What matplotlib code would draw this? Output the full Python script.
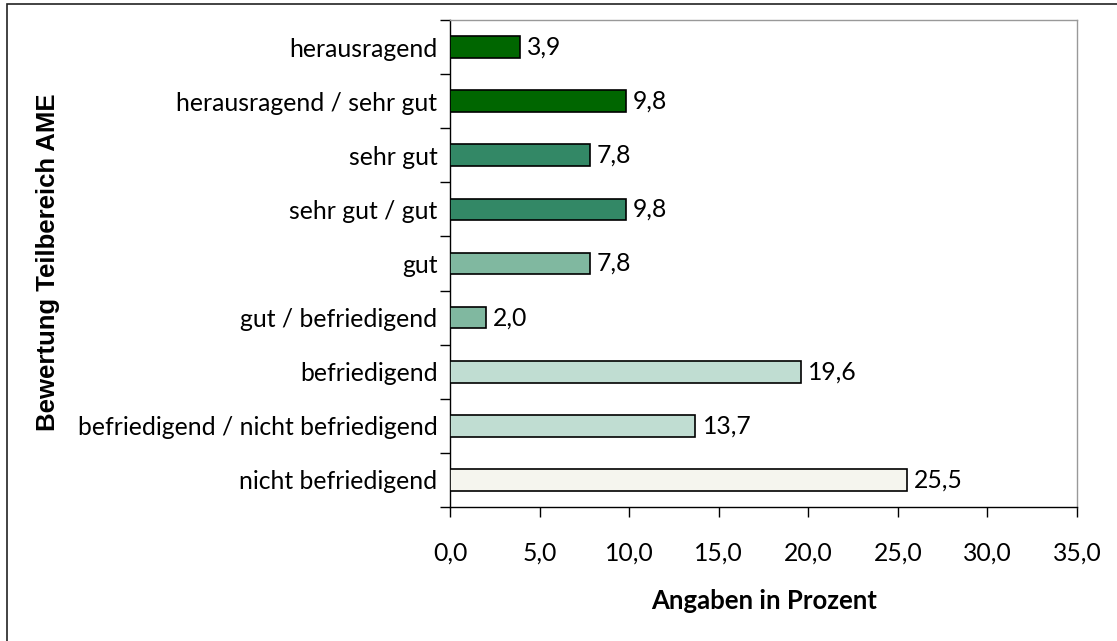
import matplotlib
matplotlib.use("Agg")
import matplotlib.pyplot as plt
from matplotlib.patches import Rectangle
from matplotlib.ticker import FixedLocator

# data, top to bottom as shown
categories = [
    "herausragend",
    "herausragend / sehr gut",
    "sehr gut",
    "sehr gut / gut",
    "gut",
    "gut / befriedigend",
    "befriedigend",
    "befriedigend / nicht befriedigend",
    "nicht befriedigend",
]
values = [3.9, 9.8, 7.8, 9.8, 7.8, 2.0, 19.6, 13.7, 25.5]
colors = [
    "#006600", "#006600",
    "#338866", "#338866",
    "#80b8a0", "#80b8a0",
    "#c0ddd2", "#c0ddd2",
    "#f5f5ee",
]
xticks = [0, 5, 10, 15, 20, 25, 30, 35]

FS = 17.8


def de_fmt(v):
    return f"{v:.1f}".replace(".", ",")


fig = plt.figure(figsize=(11.17, 6.41), dpi=100)
ax = fig.add_axes([450 / 1117, 1 - 507 / 641, 627 / 1117, 487 / 641])

# outer frame (left and top edges visible only)
fig.patches.append(Rectangle((7 / 1117, -0.1), 1.2, 1 - 4 / 641 + 0.1,
                             transform=fig.transFigure, fill=False,
                             edgecolor="#222222", linewidth=1.2))

n = len(categories)
ypos = list(range(n))
ax.barh(ypos, values, height=0.4, color=colors, edgecolor="black", linewidth=1.2, zorder=3)
for y, v in zip(ypos, values):
    ax.text(v + 0.4, y, de_fmt(v), va="center", ha="left", fontsize=FS, family="Lato")

ax.set_ylim(n - 0.5, -0.5)
ax.set_xlim(0, 35)
ax.set_yticks(ypos)
ax.set_yticklabels(categories, fontsize=FS, family="Lato")
ax.yaxis.set_minor_locator(FixedLocator([i - 0.5 for i in range(n + 1)]))
ax.tick_params(axis="y", which="major", length=0, pad=9)
ax.tick_params(axis="y", which="minor", length=7, width=1, color="black")

ax.set_xticks(xticks)
ax.set_xticklabels([de_fmt(t) for t in xticks], fontsize=FS, family="Lato")
ax.tick_params(axis="x", length=7, width=1, pad=18)

for s in ["left", "bottom"]:
    ax.spines[s].set_color("black")
    ax.spines[s].set_linewidth(1)
for s in ["top", "right"]:
    ax.spines[s].set_color("#999999")
    ax.spines[s].set_linewidth(1)

fig.text(764 / 1117, 1 - 601 / 641, "Angaben in Prozent", ha="center", va="center",
         fontsize=18.5, fontweight="bold", family="Lato")
fig.text(48 / 1117, 1 - 262 / 641, "Bewertung Teilbereich AME", rotation=90,
         ha="center", va="center", fontsize=18.5, fontweight="bold", family="Liberation Sans")

fig.savefig("out.png", dpi=100)
